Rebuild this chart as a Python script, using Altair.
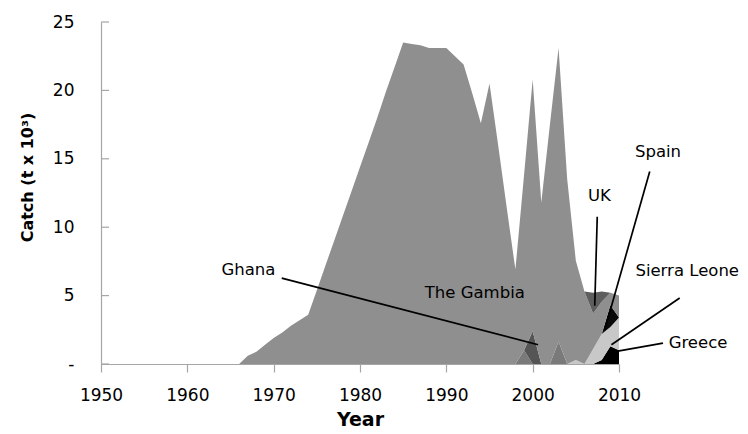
import altair as alt
import pandas as pd

# ---------------- data ----------------
years = list(range(1950, 2011))

# main (unlabelled) fleet, 1950-2010
main_catch = [0] * 16 + [
    0, 0.6, 0.9, 1.4, 1.9, 2.3, 2.8, 3.2, 3.6, 5.4,
    7.2, 9.0, 10.8, 12.6, 14.4, 16.2, 18.0, 19.9, 21.7, 23.5,
    23.4, 23.3, 23.1, 23.1, 23.1, 22.5, 21.9, 19.8, 17.6, 20.5,
    16.0, 11.4, 6.9, 12.8, 18.4, 11.8, 17.5, 21.45, 13.5, 7.25,
    5.3, 2.6, 2.35, 0.9, 1.6,
]

# minor fleets: non-zero years only
gambia_years = [1999, 2003]
gambia_vals = [1.0, 1.65]
ghana_years = [2000]
ghana_vals = [2.4]
uk_years = [2007, 2008]
uk_vals = [1.5, 0.75]
spain_years = [2009]
spain_vals = [1.6]
sierra_years = [2005, 2007, 2008, 2009, 2010]
sierra_vals = [0.3, 1.1, 1.9, 1.4, 2.4]
greece_years = [2008, 2009, 2010]
greece_vals = [0.3, 1.3, 1.0]

# stacking order (bottom -> top) and colours
series_names = ["Greece", "Sierra Leone", "Spain", "The Gambia", "Ghana", "Other", "UK"]
series_colors = ["#000000", "#c8c8c8", "#0a0a0a", "#7a7a7a", "#555555", "#8f8f8f", "#5e5e5e"]

x_ticks = [1950, 1960, 1970, 1980, 1990, 2000, 2010]
y_ticks = [0, 5, 10, 15, 20, 25]

# annotation labels (year, catch)
label_text = ["Ghana", "The Gambia", "UK", "Spain", "Sierra Leone", "Greece"]
label_x = [1963.95, 1987.5, 2006.4, 2011.85, 2011.9, 2015.75]
label_y = [6.9, 5.2, 12.25, 15.5, 6.8, 1.5]

# annotation leader lines
line_x1 = [1970.93, 2007.48, 2013.56, 2017.03, 2015.1]
line_y1 = [6.28, 10.76, 14.07, 4.82, 1.53]
line_x2 = [2000.63, 2007.19, 2008.35, 2009.12, 2009.7]
line_y2 = [1.41, 4.26, 2.51, 1.41, 0.92]

# ---------------- table ----------------
minor = {
    "Greece": dict(zip(greece_years, greece_vals)),
    "Sierra Leone": dict(zip(sierra_years, sierra_vals)),
    "Spain": dict(zip(spain_years, spain_vals)),
    "The Gambia": dict(zip(gambia_years, gambia_vals)),
    "Ghana": dict(zip(ghana_years, ghana_vals)),
    "UK": dict(zip(uk_years, uk_vals)),
}
rows = []
for rank, name in enumerate(series_names):
    for i, yr in enumerate(years):
        if name == "Other":
            v = main_catch[i]
        else:
            v = minor[name].get(yr, 0.0)
        rows.append({"year": yr, "catch": v, "series": name, "rank": rank})
df = pd.DataFrame(rows)

labels_df = pd.DataFrame({"year": label_x, "catch": label_y, "text": label_text})
lines_df = pd.DataFrame({"year": line_x1, "catch": line_y1, "year2": line_x2, "catch2": line_y2})
yt_df = pd.DataFrame({"catch": y_ticks})

FONT = "DejaVu Sans"
AXIS_GREY = "#a6a6a6"

xscale = alt.Scale(domain=[1950, 2010], nice=False, zero=False)
yscale = alt.Scale(domain=[0, 25], nice=False, zero=True)

x_enc = alt.X(
    "year:Q",
    scale=xscale,
    axis=alt.Axis(
        values=x_ticks, format="d", title="Year", grid=False,
        labelFont=FONT, labelFontSize=17, labelColor="#000000",
        labelFlush=False, labelPadding=28, labelBaseline="alphabetic",
        tickColor=AXIS_GREY, tickSize=8, tickWidth=1.2,
        domainColor=AXIS_GREY, domainWidth=1.2,
        titleFont=FONT, titleFontSize=19, titleFontWeight="bold",
        titleColor="#000000", titleBaseline="alphabetic", titleY=61,
    ),
)
y_axis = alt.Axis(
    values=y_ticks, title="Catch (t x 10³)", grid=False,
    labelExpr="datum.value == 0 ? '-\u00a0\u00a0' : datum.label",
    labelFont=FONT, labelFontSize=17, labelColor="#000000",
    labelPadding=27, ticks=False, tickSize=0,
    domainColor=AXIS_GREY, domainWidth=1.2,
    titleFont=FONT, titleFontSize=16, titleFontWeight="bold",
    titleColor="#000000", titleBaseline="middle", titleAlign="center",
    titleX=-74, titleY=155,
)

area = alt.Chart(df).mark_area(interpolate="linear", opacity=1, strokeWidth=0).encode(
    x=x_enc,
    y=alt.Y("catch:Q", stack="zero", scale=yscale, axis=y_axis),
    color=alt.Color("series:N", scale=alt.Scale(domain=series_names, range=series_colors), legend=None),
    order=alt.Order("rank:Q", sort="ascending"),
)

yticks = alt.Chart(yt_df).mark_rule(color=AXIS_GREY, strokeWidth=1.2).encode(
    y=alt.Y("catch:Q", scale=yscale, axis=y_axis),
    x=alt.value(0),
    x2=alt.value(8),
)

leaders = alt.Chart(lines_df).mark_rule(color="#000000", strokeWidth=1.7).encode(
    x=x_enc,
    y=alt.Y("catch:Q", scale=yscale, axis=y_axis),
    x2="year2:Q",
    y2="catch2:Q",
)

texts = alt.Chart(labels_df).mark_text(
    align="left", baseline="middle", font=FONT, fontSize=16.5, color="#000000"
).encode(
    x=x_enc,
    y=alt.Y("catch:Q", scale=yscale, axis=y_axis),
    text="text:N",
)

chart = alt.layer(area, yticks, leaders, texts).properties(
    width=518,
    height=342,
    autosize=alt.AutoSizeParams(type="none"),
    padding={"left": 93, "top": 14, "right": 121, "bottom": 70},
    background="#ffffff",
).configure_view(stroke=None)

chart.save("out.html", embed_options={"renderer": "svg", "actions": False})
